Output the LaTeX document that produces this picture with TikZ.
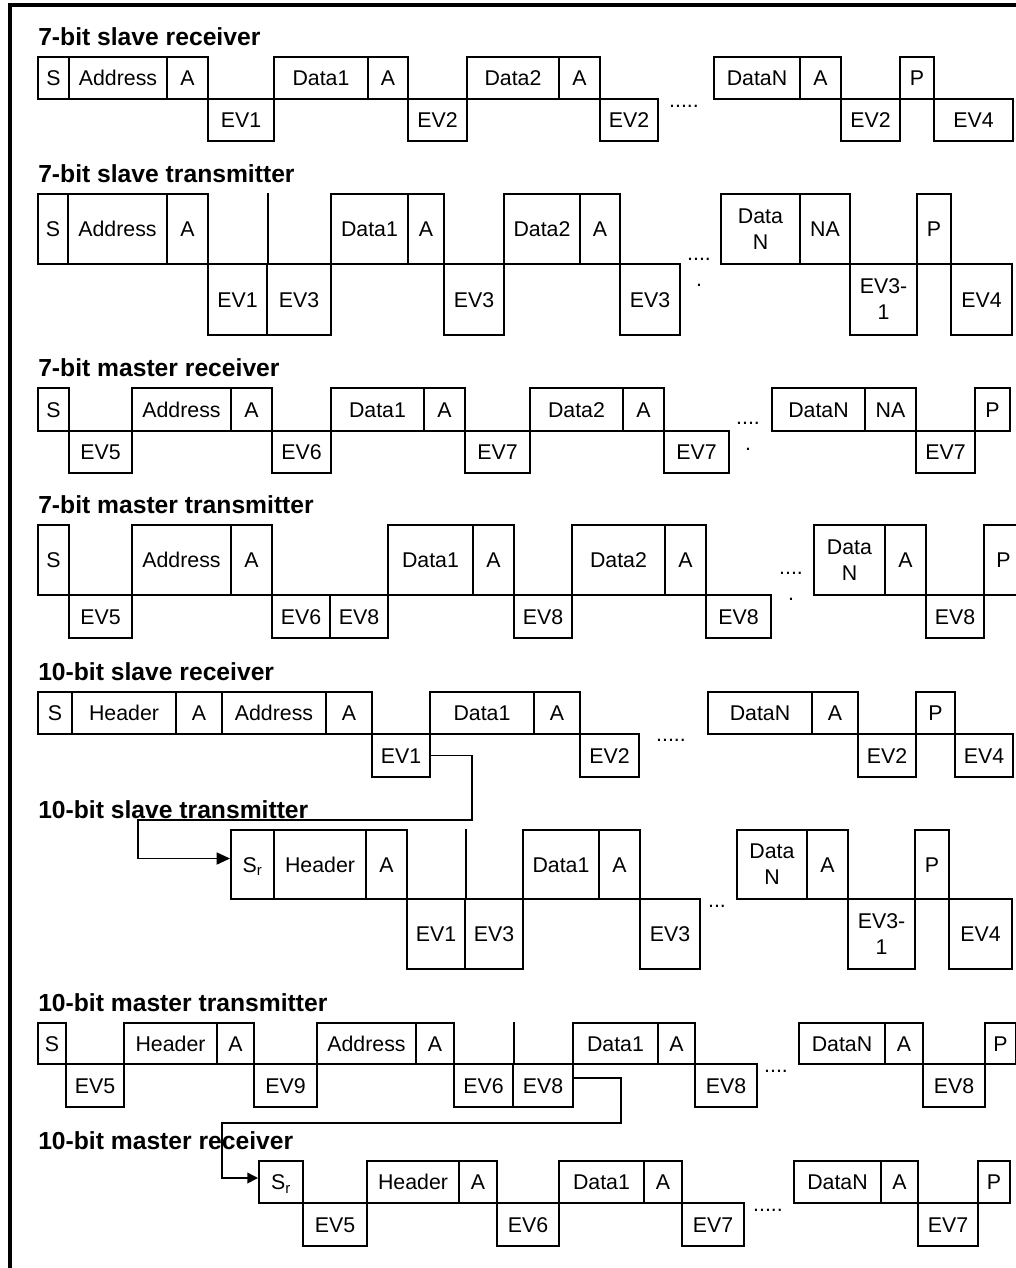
\documentclass[tikz,border=0pt]{standalone}
\usepackage{fontspec}
\setmainfont{Liberation Sans}
\usetikzlibrary{arrows.meta}
\newcommand{\boxfont}{\fontsize{16}{19.5}\selectfont}
\newcommand{\headfont}{\fontsize{18.5}{21}\selectfont\bfseries}

\begin{document}
\begin{tikzpicture}[x=0.75pt, y=-0.75pt,
    seg/.style 2 args={draw, line width=1.5pt, inner sep=0pt, anchor=north west,
      minimum width=#1*0.75pt, minimum height=#2*0.75pt, font=\boxfont,
      text height=11.5pt, text depth=0pt},
    seg2/.style 2 args={draw, line width=1.5pt, inner sep=0pt, anchor=north west,
      minimum width=#1*0.75pt, minimum height=#2*0.75pt, font=\boxfont, align=center},
    hdr/.style={anchor=base west, inner sep=0pt, font=\headfont},
    dots/.style={inner sep=0pt, align=center, font=\boxfont},
    rule/.style={line width=1.5pt},
    link/.style={line width=1.3pt, -{Triangle[length=10pt, width=9pt]}}]
  \useasboundingbox (0,0) rectangle (1016,1268);
  % Frame (right and bottom sides are off the page)
  \draw[line width=2.4pt] (10,1268) -- (10,5) -- (1016,5);

  % 7-bit slave receiver
  \node[hdr] (ssr) at (38,45) {7-bit slave receiver};
  \node[seg={31}{42}] (ssr-s) at (37,56) {S};
  \node[seg={98}{42}] (ssr-addr) at (68,56) {Address};
  \node[seg={41}{42}] (ssr-a0) at (166,56) {A};
  \node[seg={66}{42}] (ssr-ev1) at (207,98) {EV1};
  \node[seg={94}{42}] (ssr-d1) at (273,56) {Data1};
  \node[seg={40}{42}] (ssr-a1) at (367,56) {A};
  \node[seg={59}{42}] (ssr-ev2a) at (407,98) {EV2};
  \node[seg={92}{42}] (ssr-d2) at (466,56) {Data2};
  \node[seg={41}{42}] (ssr-a2) at (558,56) {A};
  \node[seg={58}{42}] (ssr-ev2b) at (599,98) {EV2};
  \node[dots, anchor=base] (ssr-dots) at (684,107) {.....};
  \node[seg={86}{42}] (ssr-dn) at (713,56) {DataN};
  \node[seg={41}{42}] (ssr-an) at (799,56) {A};
  \node[seg={59}{42}] (ssr-ev2c) at (840,98) {EV2};
  \node[seg={34}{42}] (ssr-p) at (899,56) {P};
  \node[seg={79}{42}] (ssr-ev4) at (933,98) {EV4};

  % 7-bit slave transmitter
  \node[hdr] (sst) at (38,182) {7-bit slave transmitter};
  \node[seg={30}{70}] (sst-s) at (37,193) {S};
  \node[seg={99}{70}] (sst-addr) at (67,193) {Address};
  \node[seg={41}{70}] (sst-a0) at (166,193) {A};
  \node[seg={59}{71}] (sst-ev1) at (207,263) {EV1};
  \node[seg={64}{71}] (sst-ev3a) at (266,263) {EV3};
  \draw[rule] (sst-ev1.north east) -- (sst-ev1.north east |- sst-s.north);
  \node[seg={77}{70}] (sst-d1) at (330,193) {Data1};
  \node[seg={36}{70}] (sst-a1) at (407,193) {A};
  \node[seg={60}{71}] (sst-ev3b) at (443,263) {EV3};
  \node[seg={76}{70}] (sst-d2) at (503,193) {Data2};
  \node[seg={40}{70}] (sst-a2) at (579,193) {A};
  \node[seg={60}{71}] (sst-ev3c) at (619,263) {EV3};
  \node[dots, anchor=north] (sst-dots) at (699,258) {....\\.};
  \node[seg2={79}{70}] (sst-dn) at (720,193) {Data\\N};
  \node[seg={50}{70}] (sst-na) at (799,193) {NA};
  \node[seg2={67}{71}] (sst-ev31) at (849,263) {EV3-\\1};
  \node[seg={34}{70}] (sst-p) at (916,193) {P};
  \node[seg={61}{71}] (sst-ev4) at (950,263) {EV4};

  % 7-bit master receiver
  \node[hdr] (smr) at (38,376) {7-bit master receiver};
  \node[seg={31}{43}] (smr-s) at (37,387) {S};
  \node[seg={63}{42}] (smr-ev5) at (68,430) {EV5};
  \node[seg={99}{43}] (smr-addr) at (131,387) {Address};
  \node[seg={41}{43}] (smr-a0) at (230,387) {A};
  \node[seg={59}{42}] (smr-ev6) at (271,430) {EV6};
  \node[seg={93}{43}] (smr-d1) at (330,387) {Data1};
  \node[seg={41}{43}] (smr-a1) at (423,387) {A};
  \node[seg={65}{42}] (smr-ev7a) at (464,430) {EV7};
  \node[seg={93}{43}] (smr-d2) at (529,387) {Data2};
  \node[seg={41}{43}] (smr-a2) at (622,387) {A};
  \node[seg={65}{42}] (smr-ev7b) at (663,430) {EV7};
  \node[dots, anchor=north] (smr-dots) at (748,422) {....\\.};
  \node[seg={93}{43}] (smr-dn) at (771,387) {DataN};
  \node[seg={51}{43}] (smr-na) at (864,387) {NA};
  \node[seg={59}{42}] (smr-ev7c) at (915,430) {EV7};
  \node[seg={35}{43}] (smr-p) at (974,387) {P};

  % 7-bit master transmitter
  \node[hdr] (smt) at (38,513) {7-bit master transmitter};
  \node[seg={31}{70}] (smt-s) at (37,524) {S};
  \node[seg={63}{43}] (smt-ev5) at (68,594) {EV5};
  \node[seg={99}{70}] (smt-addr) at (131,524) {Address};
  \node[seg={41}{70}] (smt-a0) at (230,524) {A};
  \node[seg={58}{43}] (smt-ev6) at (271,594) {EV6};
  \node[seg={58}{43}] (smt-ev8a) at (329,594) {EV8};
  \node[seg={85}{70}] (smt-d1) at (387,524) {Data1};
  \node[seg={41}{70}] (smt-a1) at (472,524) {A};
  \node[seg={58}{43}] (smt-ev8b) at (513,594) {EV8};
  \node[seg={93}{70}] (smt-d2) at (571,524) {Data2};
  \node[seg={41}{70}] (smt-a2) at (664,524) {A};
  \node[seg={65}{43}] (smt-ev8c) at (705,594) {EV8};
  \node[dots, anchor=north] (smt-dots) at (791,572) {....\\.};
  \node[seg2={71}{70}] (smt-dn) at (813,524) {Data\\N};
  \node[seg={41}{70}] (smt-an) at (884,524) {A};
  \node[seg={58}{43}] (smt-ev8d) at (925,594) {EV8};
  \node[seg={39}{70}] (smt-p) at (983,524) {P};

  % 10-bit slave receiver
  \node[hdr] (tsr) at (38,680) {10-bit slave receiver};
  \node[seg={34}{42}] (tsr-s) at (37,691) {S};
  \node[seg={104}{42}] (tsr-hdr) at (71,691) {Header};
  \node[seg={46}{42}] (tsr-a0) at (175,691) {A};
  \node[seg={104}{42}] (tsr-addr) at (221,691) {Address};
  \node[seg={46}{42}] (tsr-a1) at (325,691) {A};
  \node[seg={58}{43}] (tsr-ev1) at (371,733) {EV1};
  \node[seg={104}{42}] (tsr-d1) at (429,691) {Data1};
  \node[seg={46}{42}] (tsr-a2) at (533,691) {A};
  \node[seg={59}{43}] (tsr-ev2a) at (579,733) {EV2};
  \node[dots, anchor=base] (tsr-dots) at (671,741) {.....};
  \node[seg={104}{42}] (tsr-dn) at (707,691) {DataN};
  \node[seg={46}{42}] (tsr-an) at (811,691) {A};
  \node[seg={58}{43}] (tsr-ev2b) at (857,733) {EV2};
  \node[seg={39}{42}] (tsr-p) at (915,691) {P};
  \node[seg={58}{43}] (tsr-ev4) at (954,733) {EV4};

  % 10-bit slave transmitter
  \node[hdr] (tst) at (38,818) {10-bit slave transmitter};
  \node[seg={43}{69}] (tst-sr) at (230,829) {S\textsubscript{r}};
  \node[seg={92}{69}] (tst-hdr) at (273,829) {Header};
  \node[seg={41}{69}] (tst-a0) at (365,829) {A};
  \node[seg={58}{70}] (tst-ev1) at (406,898) {EV1};
  \node[seg={58}{70}] (tst-ev3a) at (464,898) {EV3};
  \draw[rule] (tst-ev1.north east) -- (tst-ev1.north east |- tst-sr.north);
  \node[seg={76}{69}] (tst-d1) at (522,829) {Data1};
  \node[seg={41}{69}] (tst-a1) at (598,829) {A};
  \node[seg={60}{70}] (tst-ev3b) at (639,898) {EV3};
  \node[dots, anchor=base] (tst-dots) at (717,907) {...};
  \node[seg2={70}{69}] (tst-dn) at (736,829) {Data\\N};
  \node[seg={41}{69}] (tst-an) at (806,829) {A};
  \node[seg2={67}{70}] (tst-ev31) at (847,898) {EV3-\\1};
  \node[seg={34}{69}] (tst-p) at (914,829) {P};
  \node[seg={63}{70}] (tst-ev4) at (948,898) {EV4};
  % EV1 of the receiver leads into the repeated start
  \coordinate (tsr-turn) at (472,820);
  \coordinate (tsr-bend) at (138,820);
  \draw[link] (tsr-ev1.east) -| (tsr-turn) -- (tsr-bend)
    |- ([yshift=4.5pt]tst-sr.west);

  % 10-bit master transmitter
  \node[hdr] (tmt) at (38,1011) {10-bit master transmitter};
  \node[seg={28}{41}] (tmt-s) at (37,1022) {S};
  \node[seg={58}{43}] (tmt-ev5) at (65,1063) {EV5};
  \node[seg={93}{41}] (tmt-hdr) at (123,1022) {Header};
  \node[seg={37}{41}] (tmt-a0) at (216,1022) {A};
  \node[seg={63}{43}] (tmt-ev9) at (253,1063) {EV9};
  \node[seg={99}{41}] (tmt-addr) at (316,1022) {Address};
  \node[seg={38}{41}] (tmt-a1) at (415,1022) {A};
  \node[seg={59}{43}] (tmt-ev6) at (453,1063) {EV6};
  \node[seg={60}{43}] (tmt-ev8a) at (512,1063) {EV8};
  \draw[rule] (tmt-ev6.north east) -- (tmt-ev6.north east |- tmt-s.north);
  \node[seg={85}{41}] (tmt-d1) at (572,1022) {Data1};
  \node[seg={37}{41}] (tmt-a2) at (657,1022) {A};
  \node[seg={62}{43}] (tmt-ev8b) at (694,1063) {EV8};
  \node[dots, anchor=base] (tmt-dots) at (776,1072) {....};
  \node[seg={86}{41}] (tmt-dn) at (798,1022) {DataN};
  \node[seg={38}{41}] (tmt-an) at (884,1022) {A};
  \node[seg={62}{43}] (tmt-ev8c) at (922,1063) {EV8};
  \node[seg={31}{41}] (tmt-p) at (984,1022) {P};

  % 10-bit master receiver
  \node[hdr] (tmr) at (38,1149) {10-bit master receiver};
  \node[seg={44}{42}] (tmr-sr) at (258,1160) {S\textsubscript{r}};
  \node[seg={64}{43}] (tmr-ev5) at (302,1202) {EV5};
  \node[seg={92}{42}] (tmr-hdr) at (366,1160) {Header};
  \node[seg={38}{42}] (tmr-a0) at (458,1160) {A};
  \node[seg={62}{43}] (tmr-ev6) at (496,1202) {EV6};
  \node[seg={85}{42}] (tmr-d1) at (558,1160) {Data1};
  \node[seg={38}{42}] (tmr-a1) at (643,1160) {A};
  \node[seg={62}{43}] (tmr-ev7a) at (681,1202) {EV7};
  \node[dots, anchor=base] (tmr-dots) at (768,1211) {.....};
  \node[seg={87}{42}] (tmr-dn) at (793,1160) {DataN};
  \node[seg={37}{42}] (tmr-an) at (880,1160) {A};
  \node[seg={60}{43}] (tmr-ev7b) at (917,1202) {EV7};
  \node[seg={32}{42}] (tmr-p) at (977,1160) {P};
  % EV8 of the transmitter leads into the repeated start
  \coordinate (tmt-turn) at (621,1123);
  \coordinate (tmt-bend) at (222,1123);
  \draw[link, -{Triangle[length=8pt, width=8pt]}] ([yshift=5.5pt]tmt-ev8a.east)
    -| (tmt-turn) -- (tmt-bend) |- ([yshift=3pt]tmr-sr.west);
\end{tikzpicture}
\end{document}
